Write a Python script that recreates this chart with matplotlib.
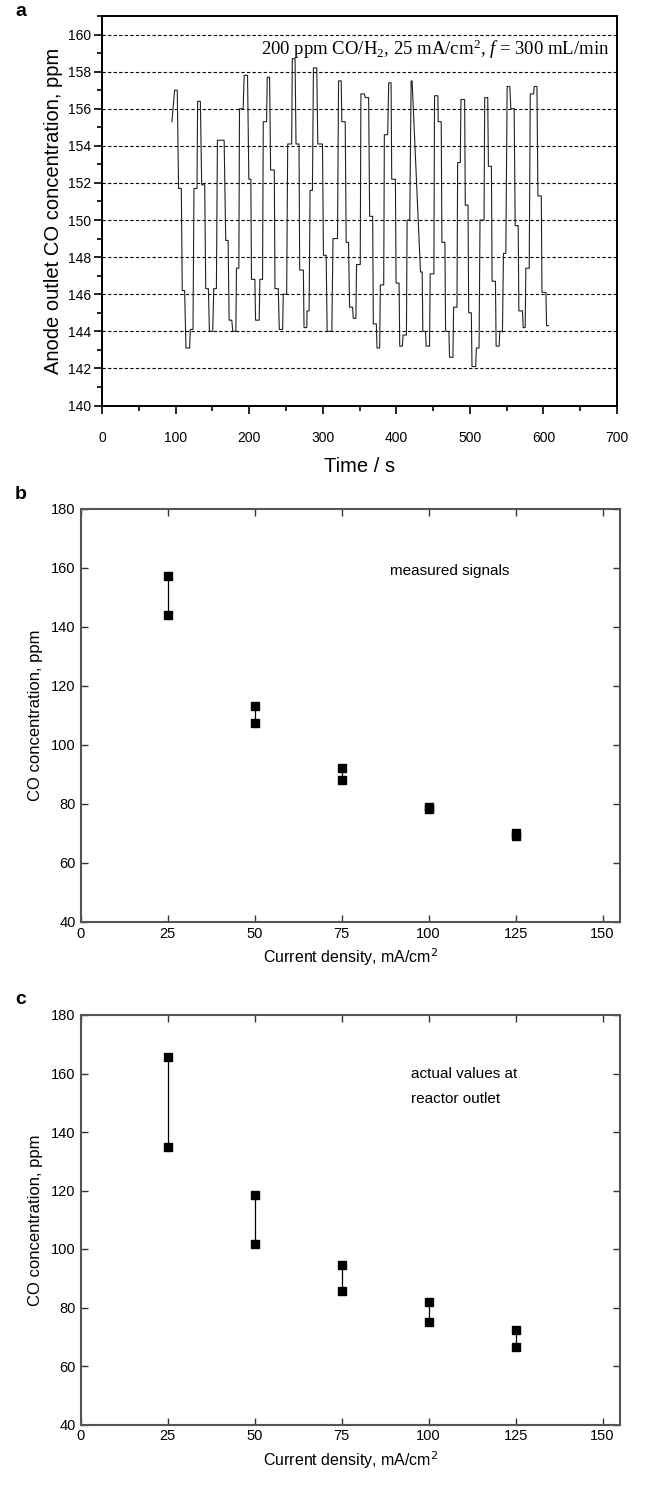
import numpy as np
import matplotlib.pyplot as plt
from matplotlib.ticker import MultipleLocator

plt.rcParams['font.family'] = ['Liberation Sans', 'DejaVu Sans']
plt.rcParams['mathtext.fontset'] = 'custom'
plt.rcParams['mathtext.rm'] = 'Liberation Serif'
plt.rcParams['mathtext.it'] = 'Liberation Serif:italic'

# panel a: anode outlet CO signal (vertices)
time_s = [95.0, 98.7, 102.3, 104.1, 107.8, 109.1, 112.3, 114.1, 119.1, 120.0, 123.7, 125.0, 129.1,
          130.0, 133.7, 135.5, 139.6, 141.0, 144.6, 146.0, 150.5, 151.9, 155.5, 156.9, 166.0, 168.2,
          171.4, 172.8, 176.4, 177.8, 181.9, 182.8, 186.0, 186.9, 191.9, 193.2, 197.8, 199.6, 202.3,
          203.2, 207.8, 208.7, 213.7, 214.6, 218.2, 219.2, 223.7, 224.6, 227.8, 229.2, 234.2, 235.1,
          239.6, 241.0, 245.5, 246.4, 251.0, 252.4, 257.8, 258.7, 262.4, 263.7, 267.8, 268.7, 273.7,
          274.6, 278.3, 278.7, 281.5, 282.8, 286.0, 287.4, 291.9, 293.3, 299.7, 301.0, 304.7, 306.0,
          312.4, 314.0, 320.1, 321.5, 325.1, 326.0, 330.6, 331.9, 335.1, 336.5, 340.6, 341.5, 345.1,
          346.0, 351.0, 351.9, 356.5, 357.9, 362.4, 363.8, 367.9, 368.8, 372.9, 373.8, 377.4, 378.3,
          382.9, 383.8, 388.3, 389.7, 392.9, 393.8, 398.8, 399.7, 403.8, 404.7, 408.3, 409.2, 413.8,
          414.7, 418.3, 420.2, 421.5, 432.9, 435.2, 436.1, 439.7, 440.6, 445.2, 446.1, 451.1, 452.0,
          456.5, 457.0, 461.1, 462.0, 466.1, 467.0, 471.5, 472.4, 477.0, 477.9, 482.5, 483.4, 487.0,
          487.9, 492.9, 493.8, 497.5, 498.4, 502.0, 502.9, 507.9, 508.8, 512.5, 513.8, 519.3, 520.2,
          524.3, 525.2, 529.3, 530.2, 534.8, 535.7, 539.8, 540.7, 544.3, 545.7, 548.9, 550.7, 554.3,
          555.7, 560.2, 561.6, 565.7, 566.6, 571.6, 572.5, 575.2, 576.1, 580.7, 582.1, 586.6, 587.5,
          591.2, 592.5, 597.1, 598.0, 603.4, 604.3, 607.1]
co_ppm = [155.3, 157.0, 157.0, 151.7, 151.7, 146.2, 146.2, 143.1, 143.1, 144.1, 144.1, 151.7, 151.7,
          156.4, 156.4, 151.9, 151.9, 146.3, 146.3, 144.0, 144.0, 146.3, 146.3, 154.3, 154.3, 148.9,
          148.9, 144.6, 144.6, 144.0, 144.0, 147.4, 147.4, 156.0, 156.0, 157.8, 157.8, 152.2, 152.2,
          146.8, 146.8, 144.6, 144.6, 146.8, 146.8, 155.3, 155.3, 157.7, 157.7, 152.7, 152.7, 146.3,
          146.3, 144.1, 144.1, 146.0, 146.0, 154.1, 154.1, 158.7, 158.7, 154.1, 154.1, 147.3, 147.3,
          144.2, 144.2, 145.1, 145.1, 151.6, 151.6, 158.2, 158.2, 154.1, 154.1, 148.1, 148.1, 144.0,
          144.0, 149.0, 149.0, 157.5, 157.5, 155.3, 155.3, 148.8, 148.8, 145.3, 145.3, 144.7, 144.7,
          147.6, 147.6, 156.8, 156.8, 156.6, 156.6, 150.2, 150.2, 144.4, 144.4, 143.1, 143.1, 146.5,
          146.5, 154.6, 154.6, 157.4, 157.4, 152.2, 152.2, 146.6, 146.6, 143.2, 143.2, 143.8, 143.8,
          150.0, 150.0, 157.5, 157.5, 147.2, 147.2, 144.0, 144.0, 143.2, 143.2, 147.1, 147.1, 156.7,
          156.7, 155.3, 155.3, 148.8, 148.8, 144.0, 144.0, 142.6, 142.6, 145.3, 145.3, 153.1, 153.1,
          156.5, 156.5, 150.8, 150.8, 145.0, 145.0, 142.1, 142.1, 143.1, 143.1, 150.0, 150.0, 156.6,
          156.6, 152.9, 152.9, 146.7, 146.7, 143.2, 143.2, 144.0, 144.0, 148.2, 148.2, 157.2, 157.2,
          156.0, 156.0, 149.7, 149.7, 145.1, 145.1, 144.2, 144.2, 147.4, 147.4, 156.8, 156.8, 157.2,
          157.2, 151.3, 151.3, 146.1, 146.1, 144.3, 144.3]

# panels b and c: max / min CO concentration vs current density
current_density = [25, 50, 75, 100, 125]
measured_max = [157.2, 113.2, 92.2, 79.0, 70.0]
measured_min = [144.0, 107.2, 88.2, 78.2, 69.2]
actual_max = [165.7, 118.5, 94.5, 82.0, 72.2]
actual_min = [135.0, 101.6, 85.5, 75.0, 66.5]

W, H = 646, 1485
fig = plt.figure(figsize=(W / 100, H / 100), dpi=100)


def px_axes(left, top, right, bottom):
    return fig.add_axes([left / W, 1 - bottom / H, (right - left) / W, (bottom - top) / H])


# ---- panel a ----
ax = px_axes(102, 16, 617, 405.5)
ax.plot(time_s, co_ppm, color='#222222', lw=0.8)
ax.set_xlim(0, 700)
ax.set_ylim(140, 161)
for yv in range(142, 161, 2):
    ax.axhline(yv, color='black', lw=0.8, ls=(0, (3, 2)), zorder=0)
ax.xaxis.set_major_locator(MultipleLocator(100))
ax.xaxis.set_minor_locator(MultipleLocator(50))
ax.yaxis.set_major_locator(MultipleLocator(2))
ax.yaxis.set_minor_locator(MultipleLocator(1))
ax.tick_params(which='both', direction='out', width=1.2, labelsize=10, pad=12)
ax.tick_params(which='major', length=6)
ax.tick_params(which='minor', length=3.5)
ax.tick_params(axis='y', pad=2)
for sp in ax.spines.values():
    sp.set_linewidth(1.4)
ax.set_xlabel('Time / s', fontsize=14.5, labelpad=9)
ax.set_ylabel('Anode outlet CO concentration, ppm', fontsize=14.5, labelpad=3)
ax.text(0.985, 0.9, r'200 ppm CO/H$_2$, 25 mA/cm$^2$, $f$ = 300 mL/min',
        transform=ax.transAxes, ha='right', va='baseline', fontsize=13.5,
        family='Liberation Serif')
fig.text(15 / W, 1 - 12 / H, 'a', fontsize=14, fontweight='bold', ha='left', va='center')


def panel_bc(top, bottom, ymax, ymin, note, note_x, note_y, letter, letter_y):
    ax = px_axes(80.5, top, 620, bottom)
    for x, hi, lo in zip(current_density, ymax, ymin):
        ax.plot([x, x], [lo, hi], color='black', lw=0.9)
    ax.plot(current_density, ymax, 's', color='black', ms=6)
    ax.plot(current_density, ymin, 's', color='black', ms=6)
    ax.set_xlim(0, 155)
    ax.set_ylim(40, 180)
    ax.set_xticks([0, 25, 50, 75, 100, 125, 150])
    ax.set_yticks(range(40, 181, 20))
    ax.tick_params(direction='in', length=5, width=1.0, top=True, right=True,
                   labelsize=10.5, colors='#333333', labelcolor='black')
    for sp in ax.spines.values():
        sp.set_linewidth(1.5)
        sp.set_color('#555555')
    ax.set_xlabel('Current density, mA/cm$^2$', fontsize=11.5, labelpad=4,
                  math_fontfamily='dejavusans')
    ax.set_ylabel('CO concentration, ppm', fontsize=12, labelpad=6)
    ax.text(note_x, note_y, note, ha='left', va='center',
            fontsize=11, linespacing=2.0)
    fig.text(15 / W, 1 - letter_y / H, letter, fontsize=14, fontweight='bold', ha='left', va='center')
    return ax


panel_bc(508.7, 921.7, measured_max, measured_min, 'measured signals', 89, 159, 'b', 495)
panel_bc(1015, 1424.5, actual_max, actual_min, 'actual values at\nreactor outlet', 95, 155.5, 'c', 1000)

fig.savefig('out.png', dpi=100)
